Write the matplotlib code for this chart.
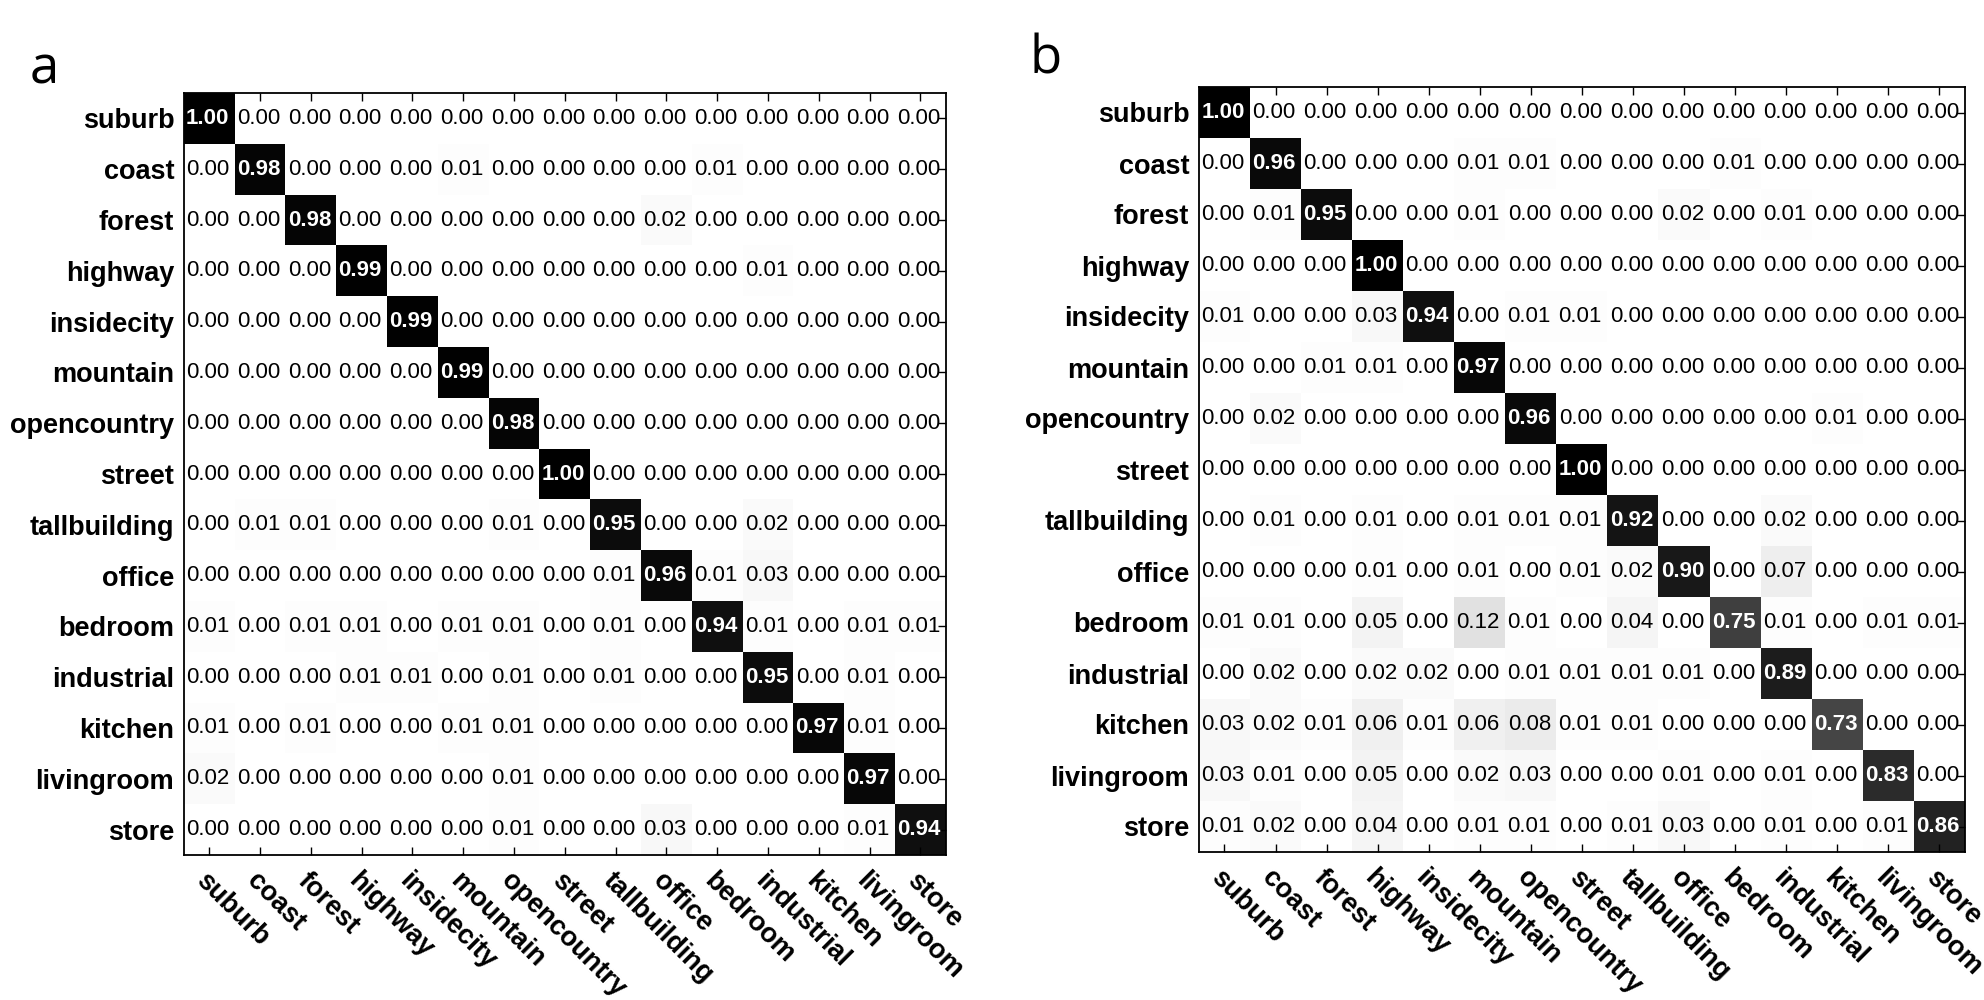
import numpy as np
import matplotlib
matplotlib.use("Agg")
import matplotlib.pyplot as plt

plt.rcParams["font.family"] = ["Liberation Sans", "DejaVu Sans"]

# ── data ──────────────────────────────────────────────────────
classes = ["suburb", "coast", "forest", "highway", "insidecity", "mountain",
           "opencountry", "street", "tallbuilding", "office", "bedroom",
           "industrial", "kitchen", "livingroom", "store"]

conf_a = [
    [1.00, 0.00, 0.00, 0.00, 0.00, 0.00, 0.00, 0.00, 0.00, 0.00, 0.00, 0.00, 0.00, 0.00, 0.00],
    [0.00, 0.98, 0.00, 0.00, 0.00, 0.01, 0.00, 0.00, 0.00, 0.00, 0.01, 0.00, 0.00, 0.00, 0.00],
    [0.00, 0.00, 0.98, 0.00, 0.00, 0.00, 0.00, 0.00, 0.00, 0.02, 0.00, 0.00, 0.00, 0.00, 0.00],
    [0.00, 0.00, 0.00, 0.99, 0.00, 0.00, 0.00, 0.00, 0.00, 0.00, 0.00, 0.01, 0.00, 0.00, 0.00],
    [0.00, 0.00, 0.00, 0.00, 0.99, 0.00, 0.00, 0.00, 0.00, 0.00, 0.00, 0.00, 0.00, 0.00, 0.00],
    [0.00, 0.00, 0.00, 0.00, 0.00, 0.99, 0.00, 0.00, 0.00, 0.00, 0.00, 0.00, 0.00, 0.00, 0.00],
    [0.00, 0.00, 0.00, 0.00, 0.00, 0.00, 0.98, 0.00, 0.00, 0.00, 0.00, 0.00, 0.00, 0.00, 0.00],
    [0.00, 0.00, 0.00, 0.00, 0.00, 0.00, 0.00, 1.00, 0.00, 0.00, 0.00, 0.00, 0.00, 0.00, 0.00],
    [0.00, 0.01, 0.01, 0.00, 0.00, 0.00, 0.01, 0.00, 0.95, 0.00, 0.00, 0.02, 0.00, 0.00, 0.00],
    [0.00, 0.00, 0.00, 0.00, 0.00, 0.00, 0.00, 0.00, 0.01, 0.96, 0.01, 0.03, 0.00, 0.00, 0.00],
    [0.01, 0.00, 0.01, 0.01, 0.00, 0.01, 0.01, 0.00, 0.01, 0.00, 0.94, 0.01, 0.00, 0.01, 0.01],
    [0.00, 0.00, 0.00, 0.01, 0.01, 0.00, 0.01, 0.00, 0.01, 0.00, 0.00, 0.95, 0.00, 0.01, 0.00],
    [0.01, 0.00, 0.01, 0.00, 0.00, 0.01, 0.01, 0.00, 0.00, 0.00, 0.00, 0.00, 0.97, 0.01, 0.00],
    [0.02, 0.00, 0.00, 0.00, 0.00, 0.00, 0.01, 0.00, 0.00, 0.00, 0.00, 0.00, 0.00, 0.97, 0.00],
    [0.00, 0.00, 0.00, 0.00, 0.00, 0.00, 0.01, 0.00, 0.00, 0.03, 0.00, 0.00, 0.00, 0.01, 0.94],
]

conf_b = [
    [1.00, 0.00, 0.00, 0.00, 0.00, 0.00, 0.00, 0.00, 0.00, 0.00, 0.00, 0.00, 0.00, 0.00, 0.00],
    [0.00, 0.96, 0.00, 0.00, 0.00, 0.01, 0.01, 0.00, 0.00, 0.00, 0.01, 0.00, 0.00, 0.00, 0.00],
    [0.00, 0.01, 0.95, 0.00, 0.00, 0.01, 0.00, 0.00, 0.00, 0.02, 0.00, 0.01, 0.00, 0.00, 0.00],
    [0.00, 0.00, 0.00, 1.00, 0.00, 0.00, 0.00, 0.00, 0.00, 0.00, 0.00, 0.00, 0.00, 0.00, 0.00],
    [0.01, 0.00, 0.00, 0.03, 0.94, 0.00, 0.01, 0.01, 0.00, 0.00, 0.00, 0.00, 0.00, 0.00, 0.00],
    [0.00, 0.00, 0.01, 0.01, 0.00, 0.97, 0.00, 0.00, 0.00, 0.00, 0.00, 0.00, 0.00, 0.00, 0.00],
    [0.00, 0.02, 0.00, 0.00, 0.00, 0.00, 0.96, 0.00, 0.00, 0.00, 0.00, 0.00, 0.01, 0.00, 0.00],
    [0.00, 0.00, 0.00, 0.00, 0.00, 0.00, 0.00, 1.00, 0.00, 0.00, 0.00, 0.00, 0.00, 0.00, 0.00],
    [0.00, 0.01, 0.00, 0.01, 0.00, 0.01, 0.01, 0.01, 0.92, 0.00, 0.00, 0.02, 0.00, 0.00, 0.00],
    [0.00, 0.00, 0.00, 0.01, 0.00, 0.01, 0.00, 0.01, 0.02, 0.90, 0.00, 0.07, 0.00, 0.00, 0.00],
    [0.01, 0.01, 0.00, 0.05, 0.00, 0.12, 0.01, 0.00, 0.04, 0.00, 0.75, 0.01, 0.00, 0.01, 0.01],
    [0.00, 0.02, 0.00, 0.02, 0.02, 0.00, 0.01, 0.01, 0.01, 0.01, 0.00, 0.89, 0.00, 0.00, 0.00],
    [0.03, 0.02, 0.01, 0.06, 0.01, 0.06, 0.08, 0.01, 0.01, 0.00, 0.00, 0.00, 0.73, 0.00, 0.00],
    [0.03, 0.01, 0.00, 0.05, 0.00, 0.02, 0.03, 0.00, 0.00, 0.01, 0.00, 0.01, 0.00, 0.83, 0.00],
    [0.01, 0.02, 0.00, 0.04, 0.00, 0.01, 0.01, 0.00, 0.01, 0.03, 0.00, 0.01, 0.00, 0.01, 0.86],
]

# ── figure ────────────────────────────────────────────────────
fig = plt.figure(figsize=(19.84, 10), dpi=100)
ax_a = fig.add_axes([0.0927, 0.145, 0.384, 0.762])
ax_b = fig.add_axes([0.6043, 0.148, 0.386, 0.765])


def draw_matrix(ax, mat):
    mat = np.array(mat)
    n = len(classes)
    ax.imshow(mat, cmap="gray_r", vmin=0, vmax=1, aspect="auto",
              interpolation="nearest")
    for i in range(n):
        for j in range(n):
            v = mat[i, j]
            if v > 0.5:
                ax.text(j - 0.03, i, f"{v:.2f}", ha="center", va="center",
                        color="white", fontsize=16, fontweight="bold")
            else:
                ax.text(j - 0.03, i, f"{v:.2f}", ha="center", va="center",
                        color="black", fontsize=16)
    ax.set_xticks(range(n))
    ax.set_yticks(range(n))
    ax.set_yticklabels(classes, fontsize=19.5, fontweight="bold")
    ax.set_xticklabels(classes, fontsize=19.5, fontweight="bold",
                       rotation=-45, ha="left", va="top",
                       rotation_mode="anchor")
    ax.tick_params(axis="x", direction="in", length=6, width=1,
                   top=True, bottom=True, pad=9)
    ax.tick_params(axis="y", direction="in", length=6, width=1,
                   left=False, right=True, pad=7)
    for sp in ax.spines.values():
        sp.set_linewidth(1.3)


draw_matrix(ax_a, conf_a)
draw_matrix(ax_b, conf_b)

fig.text(30 / 1984, 1 - 84 / 1000, "a", fontsize=38, family="Open Sans",
         va="baseline", ha="left")
fig.text(1030 / 1984, 1 - 73 / 1000, "b", fontsize=38, family="Open Sans",
         va="baseline", ha="left")

fig.savefig("out.png", dpi=100)
